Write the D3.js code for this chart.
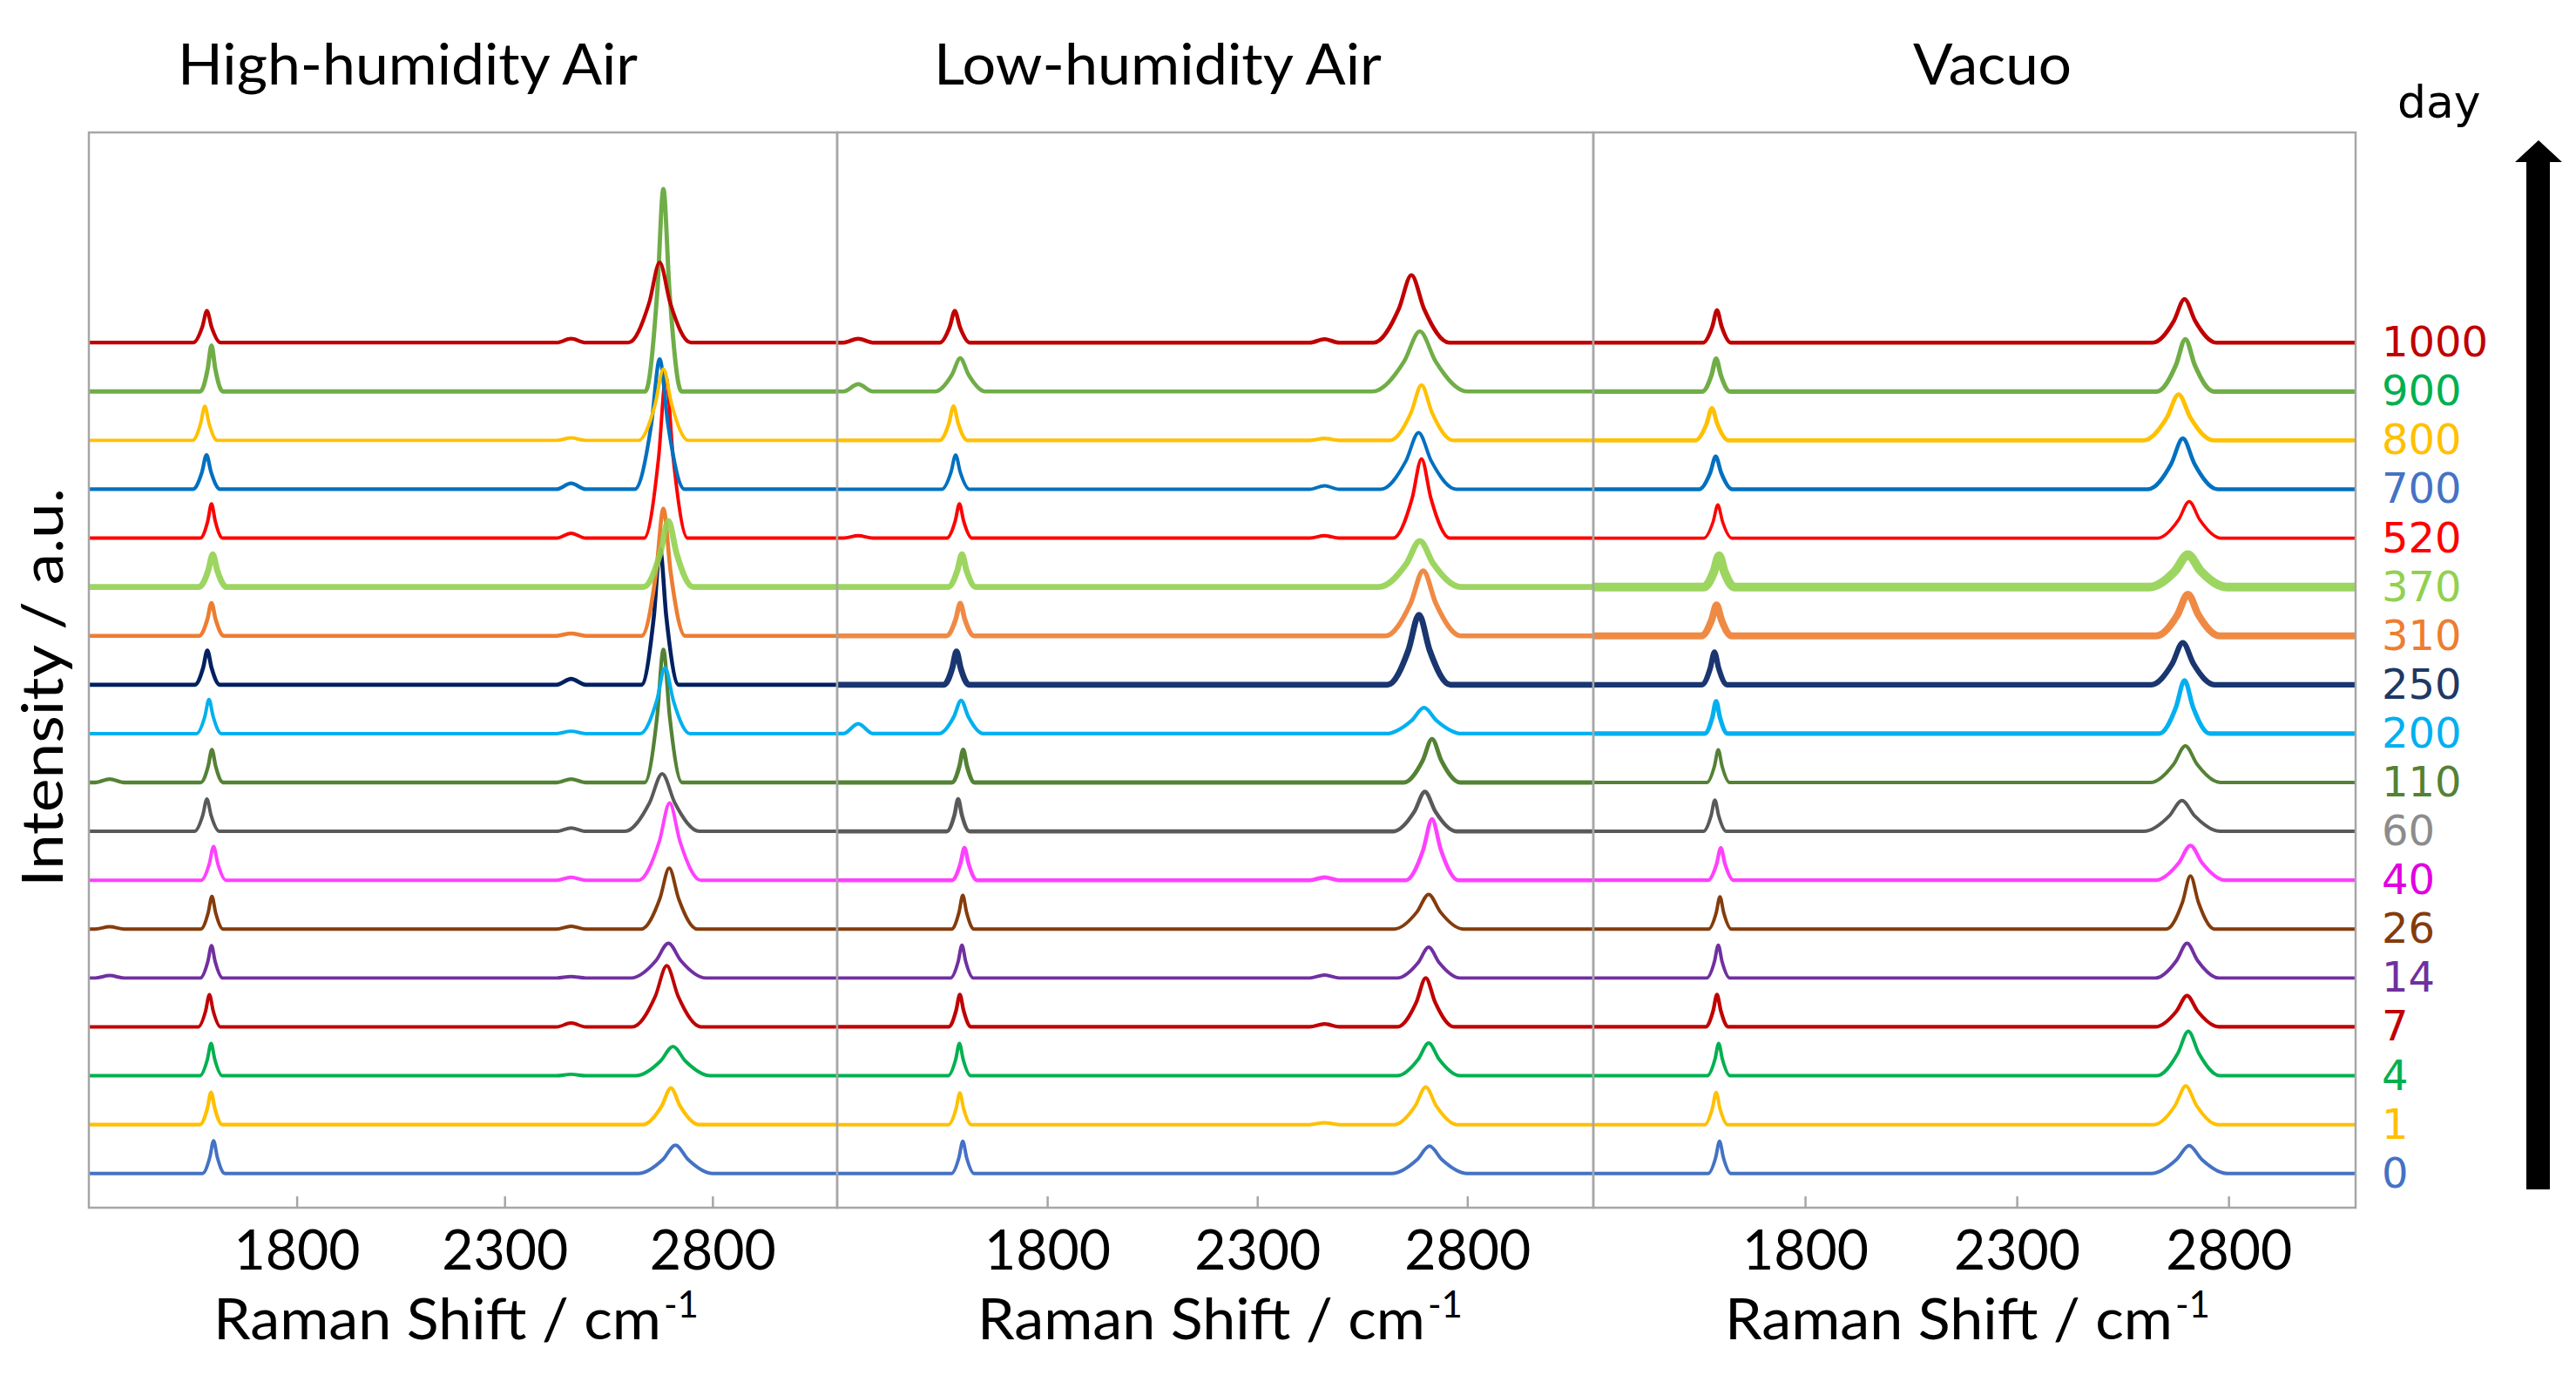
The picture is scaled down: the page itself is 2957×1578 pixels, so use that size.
<!DOCTYPE html>
<html>
<head>
<meta charset="utf-8">
<script src="https://cdn.jsdelivr.net/npm/d3@7"></script>
<style>
  body { margin: 0; background: #fff; }
  svg text { font-family: Lato, "Open Sans", sans-serif; fill: #000; }
  .legend text, .day { font-family: "DejaVu Sans", Verdana, sans-serif; }
</style>
</head>
<body>
<svg id="chart" width="2957" height="1578"></svg>
<script>
// days of storage, bottom trace first
var days = [0, 1, 4, 7, 14, 26, 40, 60, 110, 200, 250, 310, 370, 520, 700, 800, 900, 1000];
var panelNames = ["High-humidity Air", "Low-humidity Air", "Vacuo"];
var xTicks = [1800, 2300, 2800];

var traceColors = ["#4472C4", "#FFC000", "#00B050", "#C00000", "#7030A0", "#843C0C", "#FF40FF", "#595959",
  "#548235", "#00B0F0", "#002060", "#ED7D31", "#92D050", "#FF0000", "#0070C0", "#FFC000", "#70AD47", "#C00000"];
var labelColors = ["#4472C4", "#FFC000", "#00B050", "#C00000", "#7030A0", "#843C0C", "#E000E0", "#8C8C8C",
  "#548235", "#00B0F0", "#1F3864", "#ED7D31", "#92D050", "#FF0000", "#4472C4", "#FFC000", "#00B050", "#C00000"];

// High-humidity air: G band and 2D band (cm-1, a.u.)
var highGPos   = [1600, 1594, 1594, 1590, 1595, 1596, 1600, 1584, 1596, 1589, 1585, 1595, 1598, 1595, 1583, 1579, 1595, 1584];
var highGHt    = [0.67, 0.66, 0.66, 0.66, 0.66, 0.67, 0.69, 0.66, 0.67, 0.70, 0.70, 0.67, 0.67, 0.70, 0.70, 0.70, 0.94, 0.65];
var highGWid   = [18, 18, 18, 18, 18, 18, 20, 20, 18, 20, 20, 20, 22, 18, 22, 20, 18, 22];
var high2DPos  = [2711, 2700, 2705, 2690, 2694, 2696, 2697, 2679, 2682, 2686, 2674, 2682, 2694, 2688, 2673, 2682, 2682, 2673];
var high2DHt   = [0.58, 0.75, 0.60, 1.25, 0.71, 1.25, 1.58, 1.18, 2.72, 1.35, 2.78, 2.60, 1.35, 3.30, 2.66, 1.46, 4.14, 1.64];
var high2DWid  = [60, 45, 60, 55, 60, 45, 50, 60, 30, 40, 30, 35, 40, 35, 40, 40, 29, 50];
var highBump   = [0, 0, 0.03, 0.08, 0.03, 0.06, 0.06, 0.07, 0.07, 0.05, 0.12, 0.05, 0, 0.10, 0.12, 0.05, 0, 0.08];
var highLow    = [0, 0, 0, 0, 0.05, 0.05, 0, 0, 0.07, 0, 0, 0, 0, 0, 0, 0, 0, 0];
var highNoise  = [0.03, 0.04, 0.03, 0.03, 0.03, 0.03, 0.03, 0.03, 0.04, 0.03, 0.05, 0.05, 0.12, 0.03, 0.04, 0.03, 0.06, 0.04];

// Low-humidity air
var lowGPos    = [1599, 1592, 1591, 1592, 1597, 1599, 1603, 1588, 1600, 1595, 1584, 1593, 1597, 1591, 1582, 1577, 1593, 1580];
var lowGHt     = [0.66, 0.65, 0.66, 0.66, 0.67, 0.69, 0.66, 0.66, 0.67, 0.68, 0.68, 0.67, 0.67, 0.70, 0.70, 0.70, 0.68, 0.65];
var lowGWid    = [18, 18, 18, 18, 18, 18, 20, 18, 18, 35, 20, 22, 22, 20, 22, 22, 40, 24];
var low2DPos   = [2710, 2701, 2708, 2701, 2708, 2708, 2716, 2699, 2716, 2697, 2685, 2695, 2687, 2691, 2684, 2691, 2687, 2667];
var low2DHt    = [0.56, 0.77, 0.67, 1.00, 0.63, 0.71, 1.25, 0.81, 0.89, 0.53, 1.43, 1.33, 0.94, 1.62, 1.16, 1.13, 1.23, 1.38];
var low2DWid   = [60, 50, 50, 45, 50, 55, 42, 50, 45, 60, 50, 60, 65, 45, 60, 50, 75, 60];
var lowBump    = [0, 0.04, 0, 0.06, 0.06, 0, 0.06, 0, 0, 0, 0, 0, 0, 0.05, 0.07, 0.04, 0, 0.07];
var lowLow     = [0, 0, 0, 0, 0, 0, 0, 0, 0, 0.20, 0, 0, 0, 0.05, 0, 0, 0.15, 0.08];
var lowNoise   = [0.03, 0.03, 0.03, 0.04, 0.03, 0.03, 0.05, 0.05, 0.06, 0.04, 0.12, 0.08, 0.12, 0.03, 0.03, 0.04, 0.05, 0.05];

// Vacuo
var vacGPos    = [1598, 1590, 1596, 1592, 1595, 1599, 1601, 1587, 1595, 1590, 1586, 1591, 1597, 1594, 1589, 1580, 1590, 1592];
var vacGHt     = [0.66, 0.66, 0.66, 0.66, 0.67, 0.66, 0.66, 0.64, 0.67, 0.66, 0.67, 0.63, 0.64, 0.68, 0.67, 0.66, 0.67, 0.66];
var vacGWid    = [18, 18, 18, 18, 18, 18, 20, 18, 18, 18, 20, 24, 24, 22, 26, 26, 22, 22];
var vac2DPos   = [2707, 2699, 2705, 2702, 2702, 2710, 2710, 2690, 2698, 2696, 2692, 2704, 2704, 2707, 2692, 2682, 2698, 2696];
var vac2DHt    = [0.57, 0.79, 0.91, 0.64, 0.71, 1.09, 0.71, 0.63, 0.75, 1.09, 0.86, 0.85, 0.66, 0.75, 1.04, 0.94, 1.07, 0.89];
var vac2DWid   = [60, 50, 50, 50, 50, 38, 55, 60, 55, 40, 50, 50, 60, 50, 55, 55, 45, 50];
var vacBump    = [0, 0, 0, 0, 0, 0, 0, 0, 0, 0, 0, 0, 0, 0, 0, 0, 0, 0];
var vacLow     = [0, 0, 0, 0, 0, 0, 0, 0, 0, 0, 0, 0, 0, 0, 0, 0, 0, 0];
var vacNoise   = [0.03, 0.03, 0.03, 0.04, 0.03, 0.03, 0.04, 0.03, 0.03, 0.07, 0.10, 0.16, 0.22, 0.02, 0.05, 0.06, 0.07, 0.05];

var panels = [
  {name: panelNames[0], gPos: highGPos, gHt: highGHt, gWid: highGWid, dPos: high2DPos, dHt: high2DHt, dWid: high2DWid, bump: highBump, low: highLow, noise: highNoise},
  {name: panelNames[1], gPos: lowGPos, gHt: lowGHt, gWid: lowGWid, dPos: low2DPos, dHt: low2DHt, dWid: low2DWid, bump: lowBump, low: lowLow, noise: lowNoise},
  {name: panelNames[2], gPos: vacGPos, gHt: vacGHt, gWid: vacGWid, dPos: vac2DPos, dHt: vac2DHt, dWid: vac2DWid, bump: vacBump, low: vacLow, noise: vacNoise}
];

// layout
var panelX = [[102, 961], [961, 1829], [1829, 2704]];
var titleX = [468, 1329, 2287], titleLen = [528, 514, 182];
var labelLeft = [245, 1122, 1980];
var plotTop = 152, plotBottom = 1386;

var svg = d3.select("#chart");
svg.append("rect").attr("width", 2957).attr("height", 1578).attr("fill", "#fff");

var y = d3.scaleLinear().domain([-0.7, 21.3]).range([plotBottom, plotTop]);

// key points of one spectrum: flat baseline, the G band, a weak band near 2460 and the 2D band
function tracePoints(p, i) {
  var pts = [[1300, 0]];
  if (p.low[i] > 0) pts.push([1315, 0], [1350, p.low[i]], [1385, 0]);
  var g = p.gPos[i], gw = p.gWid[i], gh = p.gHt[i];
  pts.push([g - 1.5 * gw, 0], [g - gw / 2, gh / 2], [g, gh], [g + gw / 2, gh / 2], [g + 1.5 * gw, 0]);
  if (p.bump[i] > 0) pts.push([2425, 0], [2460, p.bump[i]], [2495, 0]);
  var d = p.dPos[i], dw = p.dWid[i], dh = p.dHt[i];
  pts.push([d - 1.5 * dw, 0], [d - dw / 2, dh / 2], [d, dh], [d + dw / 2, dh / 2], [d + 1.5 * dw, 0]);
  pts.push([3100, 0]);
  return pts;
}

panels.forEach(function(p, k) {
  var x = d3.scaleLinear().domain([1300, 3100]).range(panelX[k]);
  var g = svg.append("g");

  g.append("clipPath").attr("id", "clip" + k)
    .append("rect")
      .attr("x", panelX[k][0]).attr("y", plotTop)
      .attr("width", panelX[k][1] - panelX[k][0]).attr("height", plotBottom - plotTop);

  var line = d3.line()
      .x(function(d) { return x(d[0]); })
      .y(function(d) { return d[1]; })
      .curve(d3.curveMonotoneX);

  g.append("g").attr("clip-path", "url(#clip" + k + ")")
    .selectAll("path")
    .data(days)
    .enter().append("path")
      .attr("d", function(day, i) {
        return line(tracePoints(p, i).map(function(pt) { return [pt[0], y(i + pt[1])]; }));
      })
      .attr("fill", "none")
      .attr("stroke", function(day, i) { return traceColors[i]; })
      // noisier spectra drawn as a wider band
      .attr("stroke-width", function(day, i) { return 3 + p.noise[i] * 32; })
      .attr("stroke-opacity", function(day, i) { return p.noise[i] > 0.07 ? 0.9 : 1; })
      .attr("stroke-linejoin", "round");

  // frame
  g.append("rect")
      .attr("x", panelX[k][0]).attr("y", plotTop)
      .attr("width", panelX[k][1] - panelX[k][0]).attr("height", plotBottom - plotTop)
      .attr("fill", "none").attr("stroke", "#A6A6A6").attr("stroke-width", 2.5);

  var axis = g.append("g")
      .attr("transform", "translate(0," + plotBottom + ")")
      .call(d3.axisBottom(x).tickValues(xTicks).tickSize(-13).tickFormat(d3.format("d")));
  axis.select(".domain").remove();
  axis.selectAll(".tick line").attr("stroke", "#A6A6A6").attr("stroke-width", 2.5);
  axis.selectAll(".tick text")
      .attr("y", 71).attr("dy", 0)
      .attr("font-size", 64).attr("font-family", "Lato, sans-serif").attr("fill", "#000")
      .attr("textLength", 145).attr("lengthAdjust", "spacingAndGlyphs");

  // panel title
  svg.append("text")
      .attr("x", titleX[k]).attr("y", 97)
      .attr("text-anchor", "middle").attr("font-size", 65)
      .attr("textLength", titleLen[k]).attr("lengthAdjust", "spacingAndGlyphs")
      .text(p.name);

  // x axis label
  svg.append("text")
      .attr("x", labelLeft[k]).attr("y", 1537).attr("font-size", 66)
      .attr("textLength", 514).attr("lengthAdjust", "spacingAndGlyphs")
      .text("Raman Shift / cm");
  svg.append("text")
      .attr("x", labelLeft[k] + 517).attr("y", 1512).attr("font-size", 42)
      .text("-1");
});

// y axis label
svg.append("text")
    .attr("transform", "translate(72,789) rotate(-90)")
    .attr("text-anchor", "middle").attr("font-size", 66)
    .attr("textLength", 458).attr("lengthAdjust", "spacingAndGlyphs")
    .text("Intensity / a.u.");

// legend of days
svg.append("g").attr("class", "legend")
  .selectAll("text")
  .data(days)
  .enter().append("text")
    .attr("x", 2734)
    .attr("y", function(day, i) { return y(i) + 16; })
    .attr("font-size", 48)
    .style("fill", function(day, i) { return labelColors[i]; })
    .text(function(day) { return day; });

svg.append("text").attr("class", "day")
    .attr("x", 2752).attr("y", 135).attr("font-size", 52)
    .text("day");

// time arrow
svg.append("path")
    .attr("d", "M2900,1365 L2900,186 L2887,186 L2914,161 L2941,186 L2927,186 L2927,1365 Z")
    .attr("fill", "#000");
</script>
</body>
</html>
